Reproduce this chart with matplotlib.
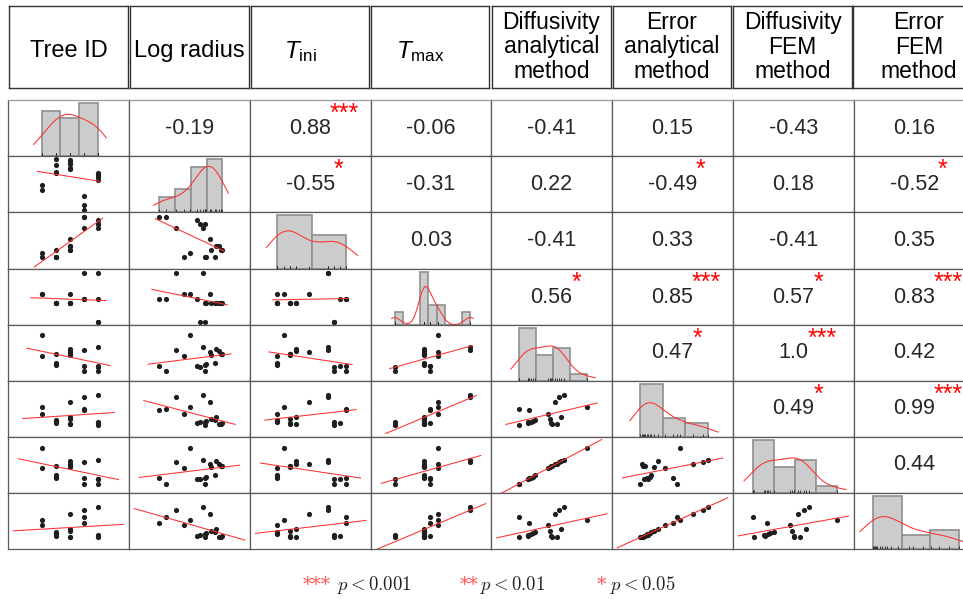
import numpy as np
import matplotlib
matplotlib.use("Agg")
import matplotlib.pyplot as plt

plt.rcParams['font.family'] = 'Liberation Sans'
plt.rcParams['mathtext.fontset'] = 'custom'
plt.rcParams['mathtext.it'] = 'Liberation Sans:italic'
plt.rcParams['mathtext.rm'] = 'Liberation Sans'

# column titles
headers = ['Tree ID', 'Log radius', r'$T_{\mathrm{ini}}$', r'$T_{\mathrm{max}}$',
           'Diffusivity\nanalytical\nmethod', 'Error\nanalytical\nmethod',
           'Diffusivity\nFEM\nmethod', 'Error\nFEM\nmethod']

# one value per sample (18 logs)
tree_id = [4, 5, 5, 5, 4, 2, 2, 2, 1, 3, 2, 3, 3, 3, 4, 3, 5, 1]
log_radius = [11.8, 16.7, 16.0, 15.6, 11.0, 16.6, 16.8, 17.9, 14.0, 17.4, 18.8, 18.6,
              17.2, 18.4, 13.1, 18.0, 16.4, 14.8]
t_ini = [15, 13, 13, 14, 15, 4, 4, 4, 4, 6, 6, 6, 9, 7, 12, 7, 12, 5]
t_max = [23.5, 20.0, 20.0, 23.5, 23.5, 22.9, 22.9, 22.9, 24.3, 22.9, 22.9, 22.9,
         24.3, 22.9, 27.5, 22.9, 27.5, 24.3]
diff_an = [1.30, 1.30, 1.40, 1.41, 1.42, 1.44, 1.46, 1.49, 1.64, 1.67, 1.68, 1.69,
           1.72, 1.75, 1.77, 1.80, 1.83, 2.10]
err_an = [2.05, 0.40, 0.76, 0.58, 1.87, 0.70, 0.82, 0.88, 1.51, 1.00, 0.64, 0.55,
          2.74, 0.49, 3.19, 1.21, 3.40, 2.17]
diff_fem = [1.27, 1.28, 1.37, 1.38, 1.40, 1.41, 1.43, 1.46, 1.61, 1.63, 1.65, 1.655,
            1.69, 1.71, 1.74, 1.76, 1.79, 2.05]
err_fem = [2.41, 0.36, 0.61, 0.46, 1.79, 0.67, 0.77, 0.86, 1.63, 0.98, 0.49, 0.42,
           2.69, 0.39, 3.06, 1.23, 3.40, 2.13]

# upper triangle: correlation coefficients and significance stars
corr_text = [
    ['-0.19', '0.88', '-0.06', '-0.41', '0.15', '-0.43', '0.16'],
    ['-0.55', '-0.31', '0.22', '-0.49', '0.18', '-0.52'],
    ['0.03', '-0.41', '0.33', '-0.41', '0.35'],
    ['0.56', '0.85', '0.57', '0.83'],
    ['0.47', '1.0', '0.42'],
    ['0.49', '0.99'],
    ['0.44'],
]
corr_stars = [
    ['', '***', '', '', '', '', ''],
    ['*', '', '', '*', '', '*'],
    ['', '', '', '', ''],
    ['*', '***', '*', '***'],
    ['*', '***', ''],
    ['*', '***'],
    [''],
]
nbins = [3, 4, 2, 9, 4, 3, 4, 3]

data = [np.asarray(v, dtype=float) for v in
        [tree_id, log_radius, t_ini, t_max, diff_an, err_an, diff_fem, err_fem]]
n = len(tree_id)

# layout (pixels)
W, H = 963, 599
col_edges = [8, 129, 250, 371, 491, 612, 733, 854, 975]
row_edges = [100, 156, 212, 269, 325, 381, 437, 493, 549]
head_x = [(9, 128), (130, 249), (251, 369), (371, 489),
          (492, 611), (613, 731), (733, 852), (853, 985)]
xfrac = [0.47, 0.52, 0.57, 0.63, 0.56, 0.56, 0.69, 0.71]
yfit = [None, (0.91, 0.036), (0.71, 0.21), (0.875, 0.06), (0.65, 0.17),
        (0.54, 0.21), (0.65, 0.16), (0.54, 0.21)]
lfrac = [None, 0.514, 0.564, 0.622, 0.688, 0.755, 0.829, 0.912]
kpad = [0.14, 0.095, 0.16, 0.04, 0.12, 0.15, 0.11, 0.15]
bw_adj = 1.3

RED = '#ff3030'
FRAME = '#5a5a5a'

fig = plt.figure(figsize=(W / 100, H / 100), dpi=100)
fig.patch.set_facecolor('white')


def px_axes(x0, x1, y0, y1):
    return fig.add_axes([x0 / W, 1 - y1 / H, (x1 - x0) / W, (y1 - y0) / H])


def clean(ax, color=FRAME, lw=0.9):
    ax.set_xticks([])
    ax.set_yticks([])
    for s in ax.spines.values():
        s.set_color(color)
        s.set_linewidth(lw)


def xlim_for(j):
    v = data[j]
    lo, hi = v.min(), v.max()
    tot = (hi - lo) / xfrac[j]
    left = lo - tot * ((1 - xfrac[j]) / 2 + 0.012)
    return left, left + tot


def ylim_for(i):
    f, b = yfit[i]
    v = data[i]
    lo, hi = v.min(), v.max()
    tot = (hi - lo) / f
    bottom = lo - tot * b
    return bottom, bottom + tot


def nrd0(v):
    iqr = np.subtract(*np.percentile(v, [75, 25]))
    s = min(np.std(v, ddof=1), iqr / 1.34)
    return 0.9 * s * len(v) ** -0.2


# header boxes
for k, (x0, x1) in enumerate(head_x):
    ax = px_axes(x0, x1, 6, 88)
    clean(ax, '#333333', 1.0)
    if k in (2, 3):
        ax.text(0.42, 0.45, headers[k], ha='center', va='center', fontsize=17.5)
    elif '\n' in headers[k]:
        ax.text(0.5, 0.5, headers[k], ha='center', va='center', fontsize=16.5,
                linespacing=1.1)
    else:
        ax.text(0.5, 0.457, headers[k], ha='center', va='center', fontsize=17)

# the matrix
for i in range(8):
    for j in range(8):
        ax = px_axes(col_edges[j], col_edges[j + 1], row_edges[i], row_edges[i + 1])
        clean(ax)
        if i == 0:
            ax.spines['top'].set_color('#9a9a9a')
        if i < j:
            ax.set_xlim(0, 1)
            ax.set_ylim(0, 1)
            t = ax.text(0.5, 0.5, corr_text[i][j - i - 1], ha='center', va='center',
                        fontsize=15.5, color='#262626')
            st = corr_stars[i][j - i - 1]
            if st:
                ax.annotate(st, xy=(1, 0.5), xycoords=t, xytext=(-1, 5.5),
                            textcoords='offset points', ha='left', va='baseline',
                            color='red', fontsize=18, annotation_clip=False)
            continue
        x = data[j]
        xl = xlim_for(j)
        ax.set_xlim(*xl)
        if i == j:
            counts, edges = np.histogram(x, bins=nbins[j])
            binw = edges[1] - edges[0]
            ax.bar(edges[:-1], counts, width=binw, align='edge', color='#cccccc',
                   edgecolor='#8f8f8f', linewidth=1.2)
            top = counts.max() * 1.06
            ax.set_ylim(0, top)
            h = nrd0(x) * bw_adj
            span = x.max() - x.min()
            gx = np.linspace(x.min() - kpad[j] * span, x.max() + kpad[j] * span, 300)
            dens = np.exp(-0.5 * ((gx[:, None] - x[None, :]) / h) ** 2).sum(1)
            dens = dens / (n * h * np.sqrt(2 * np.pi))
            ax.plot(gx, dens * n * binw, color=RED, lw=0.75)
            ax.vlines(x, 0, top * 0.055, color='#222222', lw=0.6)
        else:
            y = data[i]
            ax.set_ylim(*ylim_for(i))
            ax.scatter(x, y, s=14, color='#1e1e1e', linewidths=0)
            slope, icpt = np.polyfit(x, y, 1)
            xm = (xl[0] + xl[1]) / 2
            half = lfrac[i] * (xl[1] - xl[0]) / 2
            xs = np.array([xm - half, xm + half])
            ax.plot(xs, slope * xs + icpt, color=RED, lw=0.75)

# significance key
key_y = 1 - 590 / H
for sx, stars, px, label in [(303, '***', 337, r'$p < 0.001$'),
                             (460, '**', 480, r'$p < 0.01$'),
                             (597, '*', 610, r'$p < 0.05$')]:
    fig.text(sx / W, key_y, stars, color='#ff5a5a', fontsize=13.5,
             family='DejaVu Serif', ha='left', va='baseline')
    fig.text(px / W, key_y, label, fontsize=13.5, math_fontfamily='cm',
             ha='left', va='baseline', color='#222222')

fig.savefig('out.png', dpi=100)
